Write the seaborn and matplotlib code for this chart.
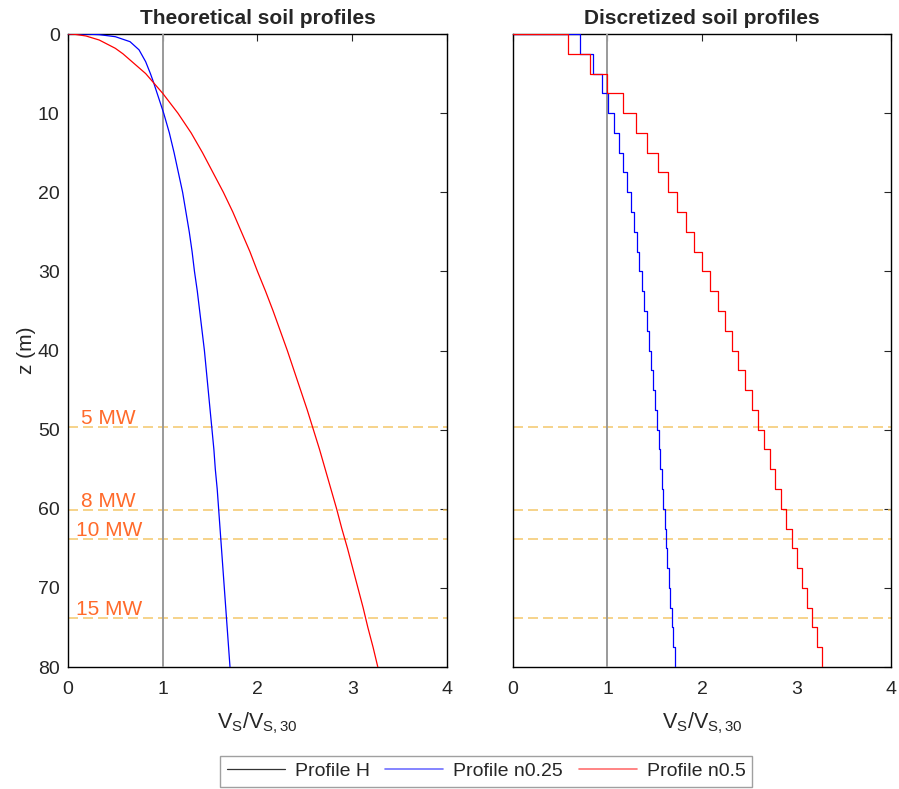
import numpy as np
import pandas as pd
import matplotlib
matplotlib.use("Agg")
import matplotlib.pyplot as plt
from matplotlib.lines import Line2D
import seaborn as sns

# layer bottoms (m) for the discretized profiles, 2.5 m layers
layer_bottom = [2.5, 5, 7.5, 10, 12.5, 15, 17.5, 20, 22.5, 25, 27.5, 30,
                32.5, 35, 37.5, 40, 42.5, 45, 47.5, 50, 52.5, 55, 57.5, 60,
                62.5, 65, 67.5, 70, 72.5, 75, 77.5, 80]

# Vs/Vs30 in each layer (read at layer bottom)
n025_layers = [0.71, 0.85, 0.945, 1.01, 1.07, 1.12, 1.165, 1.21, 1.245, 1.28,
               1.31, 1.335, 1.365, 1.39, 1.415, 1.44, 1.46, 1.48, 1.50, 1.52,
               1.54, 1.555, 1.575, 1.59, 1.605, 1.62, 1.635, 1.65, 1.665, 1.68,
               1.695, 1.71]
n05_layers = [0.58, 0.82, 1.0, 1.16, 1.30, 1.42, 1.53, 1.64, 1.74, 1.83,
              1.92, 2.0, 2.085, 2.165, 2.24, 2.315, 2.385, 2.455, 2.525, 2.59,
              2.655, 2.715, 2.775, 2.835, 2.89, 2.95, 3.005, 3.06, 3.115, 3.165,
              3.22, 3.27]

# smooth curves near the surface (read separately)
z_top_n025 = [0, 0.01, 0.08, 0.34, 0.97, 2.0, 3.5, 5.0, 6.0, 8.0]
v_top_n025 = [0, 0.20, 0.33, 0.50, 0.655, 0.75, 0.82, 0.87, 0.90, 0.955]
z_top_n05 = [0, 0.05, 0.25, 0.76, 1.81]
v_top_n05 = [0, 0.08, 0.19, 0.33, 0.50]

# turbine foundation depths
turbines = ["5 MW", "8 MW", "10 MW", "15 MW"]
turbine_depth = [49.7, 60.1, 63.8, 73.8]

sns.set_style("white")
plt.rcParams['font.family'] = ['Liberation Sans', 'DejaVu Sans']
plt.rcParams['mathtext.fontset'] = 'custom'
plt.rcParams['mathtext.rm'] = 'Liberation Sans'
plt.rcParams['mathtext.it'] = 'Liberation Sans'

c_h = '#9a9a9a'
c_b = '#0000ff'
c_r = '#ff0000'
c_turb = '#f3c35e'
c_lab = '#ff6a2a'

# smooth profiles
theo_b = pd.DataFrame({'z': z_top_n025 + layer_bottom[3:],
                       'v': v_top_n025 + n025_layers[3:]})
theo_r = pd.DataFrame({'z': z_top_n05 + layer_bottom,
                       'v': v_top_n05 + n05_layers})

# staircase profiles
zs, v25, v5 = [0.0], [0.0], [0.0]
ztop = 0.0
for zb, a, b in zip(layer_bottom, n025_layers, n05_layers):
    zs += [ztop, zb]
    v25 += [a, a]
    v5 += [b, b]
    ztop = zb
disc_b = pd.DataFrame({'z': zs, 'v': v25})
disc_r = pd.DataFrame({'z': zs, 'v': v5})

fig = plt.figure(figsize=(8.99, 7.89), dpi=100)
ax1 = fig.add_axes([0.0756, 0.1546, 0.4216, 0.8023])
ax2 = fig.add_axes([0.5706, 0.1546, 0.4205, 0.8023])

for ax, db, dr in [(ax1, theo_b, theo_r), (ax2, disc_b, disc_r)]:
    ax.plot([1, 1], [0, 80], color=c_h, lw=1.4, zorder=3)
    sns.lineplot(data=db, x='v', y='z', sort=False, estimator=None,
                 color=c_b, lw=0.9, ax=ax, zorder=3)
    sns.lineplot(data=dr, x='v', y='z', sort=False, estimator=None,
                 color=c_r, lw=0.9, ax=ax, zorder=3)
    for d in turbine_depth:
        ax.axhline(d, color=c_turb, lw=1.2, dashes=(6, 3), alpha=0.85, zorder=2)
    ax.set_xlim(0, 4)
    ax.set_ylim(80, 0)
    ax.set_xticks([0, 1, 2, 3, 4])
    ax.set_yticks(range(0, 81, 10))
    ax.tick_params(direction='in', top=True, right=True, length=5,
                   labelsize=14, width=0.8)
    ax.tick_params(axis='x', pad=10)
    ax.tick_params(axis='y', pad=6)
    for s in ax.spines.values():
        s.set_linewidth(1.0)
        s.set_color('black')
    ax.set_xlabel(r'V$_\mathrm{S}$/V$_\mathrm{S,30}$', fontsize=15.5, labelpad=9)

for name, d in zip(turbines, turbine_depth):
    ax1.text(0.43, d - 0.35, name, color=c_lab, fontsize=15,
             ha='center', va='baseline')

ax1.set_ylabel('z (m)', fontsize=15, labelpad=1)
ax2.set_ylabel('')
ax2.set_yticklabels([])
ax1.set_title('Theoretical soil profiles', fontsize=15, fontweight='bold', pad=7)
ax2.set_title('Discretized soil profiles', fontsize=15, fontweight='bold', pad=7)

handles = [Line2D([], [], color='#333333', lw=0.9),
           Line2D([], [], color='#7070ff', lw=1.2),
           Line2D([], [], color='#ff7070', lw=1.2)]
leg = fig.legend(handles, ['Profile H', 'Profile n0.25', 'Profile n0.5'],
                 loc='upper center', bbox_to_anchor=(0.5406, 0.042), ncol=3,
                 fontsize=14, frameon=True, fancybox=False, handlelength=3.0,
                 columnspacing=0.8, handletextpad=0.5, borderpad=0.35,
                 borderaxespad=0)
leg.get_frame().set_edgecolor('#888888')
leg.get_frame().set_linewidth(1.0)

fig.savefig('out.png', dpi=100)
